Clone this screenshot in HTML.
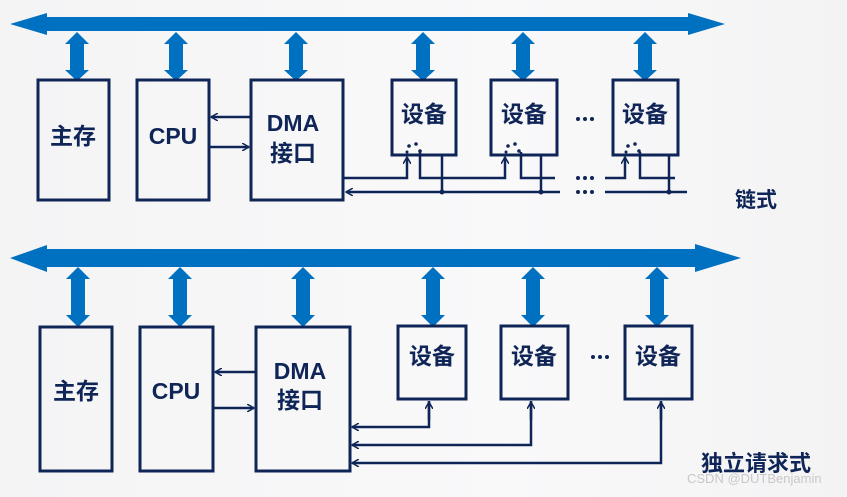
<!DOCTYPE html>
<html><head><meta charset="utf-8"><style>
html,body{margin:0;padding:0;}
body{width:847px;height:492px;overflow:hidden;background:linear-gradient(90deg,#f4f4f5,#f9f9fa 60%,#f3f3f4);}
svg text{font-family:"Liberation Sans","Noto Sans CJK SC",sans-serif;font-weight:bold;fill:#0f2557;}
</style></head><body>
<svg width="847" height="492" viewBox="0 0 847 492" xmlns="http://www.w3.org/2000/svg">
<defs>
<marker id="ah" markerWidth="8" markerHeight="8" refX="7" refY="4" orient="auto" markerUnits="userSpaceOnUse"><path d="M0,0 L7,4 L0,8" fill="none" stroke="#0f2557" stroke-width="1.5"/></marker>
</defs>
<polygon points="10,24 47,13 47,17 688,17 688,13 725,24 688,35 688,31 47,31 47,35" fill="#0070c0"/>
<polygon points="10,258 47,245 47,249 695,249 695,244 741,258 695,272 695,267 47,267 47,272" fill="#0070c0"/>
<g fill="#0070c0">
<path id="d1" d="M0,32 L12,44 L7,44 L7,70 L12,70 L0,81 L-12,70 L-7,70 L-7,44 L-12,44 Z" transform="translate(77,0)"/>
<use href="#d1" x="99"/><use href="#d1" x="219"/><use href="#d1" x="346"/><use href="#d1" x="446"/><use href="#d1" x="568"/>
<path id="d2" d="M0,267 L12,279 L7,279 L7,315 L12,315 L0,327 L-12,315 L-7,315 L-7,279 L-12,279 Z" transform="translate(78,0)"/>
<use href="#d2" x="102"/><use href="#d2" x="225"/><use href="#d2" x="355"/><use href="#d2" x="455"/><use href="#d2" x="579"/>
</g>
<g fill="none" stroke="#0f2557" stroke-width="3">
<rect x="38" y="80" width="71" height="120"/>
<rect x="137" y="80" width="72" height="120"/>
<rect x="251" y="80" width="92" height="120"/>
<rect x="392" y="80" width="64" height="75"/>
<rect x="491" y="80" width="66" height="75"/>
<rect x="613" y="80" width="65" height="75"/>
<rect x="40" y="327" width="72" height="144"/>
<rect x="140" y="327" width="73" height="144"/>
<rect x="256" y="327" width="94" height="144"/>
<rect x="398" y="326" width="68" height="73"/>
<rect x="501" y="326" width="67" height="73"/>
<rect x="625" y="326" width="67" height="73"/>
</g>
<g fill="none" stroke="#0f2557" stroke-width="2.5">
<line x1="250" y1="117" x2="211" y2="117" marker-end="url(#ah)"/>
<line x1="209" y1="147" x2="249" y2="147" marker-end="url(#ah)"/>
<line x1="255" y1="372" x2="215" y2="372" marker-end="url(#ah)"/>
<line x1="213" y1="408" x2="254" y2="408" marker-end="url(#ah)"/>
<polyline points="344,178 407,178 407,157" marker-end="url(#ah)"/>
<polyline points="420,152 420,178 505,178 505,157" marker-end="url(#ah)"/>
<polyline points="521,152 521,178 555,178"/>
<polyline points="605,178 625,178 625,157" marker-end="url(#ah)"/>
<polyline points="640,152 640,178 675,178"/>
<line x1="560" y1="192" x2="346" y2="192" marker-end="url(#ah)"/>
<line x1="605" y1="192" x2="687" y2="192"/>
<line x1="442" y1="155" x2="442" y2="192"/>
<line x1="541" y1="155" x2="541" y2="192"/>
<line x1="669" y1="155" x2="669" y2="192"/>
<polyline points="429,401 429,427 352,427" marker-end="url(#ah)"/>
<polyline points="531,401 531,445 352,445" marker-end="url(#ah)"/>
<polyline points="661,401 661,463 352,463" marker-end="url(#ah)"/>
<line x1="429" y1="420" x2="429" y2="402" marker-end="url(#ah)"/>
<line x1="531" y1="420" x2="531" y2="402" marker-end="url(#ah)"/>
<line x1="661" y1="420" x2="661" y2="402" marker-end="url(#ah)"/>
</g>
<g fill="#0f2557">
<circle cx="442" cy="192" r="2.5"/><circle cx="541" cy="192" r="2.5"/><circle cx="669" cy="192" r="2.5"/>
<circle cx="409" cy="146" r="1.8"/><circle cx="416" cy="144" r="1.8"/><circle cx="420" cy="151" r="1.8"/><circle cx="407" cy="152" r="1.5"/>
<circle cx="508" cy="146" r="1.8"/><circle cx="515" cy="144" r="1.8"/><circle cx="519" cy="151" r="1.8"/><circle cx="506" cy="152" r="1.5"/>
<circle cx="628" cy="146" r="1.8"/><circle cx="635" cy="144" r="1.8"/><circle cx="639" cy="151" r="1.8"/><circle cx="626" cy="152" r="1.5"/>
<circle cx="578" cy="178" r="2"/><circle cx="585" cy="178" r="2"/><circle cx="592" cy="178" r="2"/>
<circle cx="578" cy="192" r="2"/><circle cx="585" cy="192" r="2"/><circle cx="592" cy="192" r="2"/>
<circle cx="578" cy="119" r="2"/><circle cx="585" cy="119" r="2"/><circle cx="592" cy="119" r="2"/>
<circle cx="593" cy="357" r="2"/><circle cx="600" cy="357" r="2"/><circle cx="607" cy="357" r="2"/>
</g>
<g font-size="23">
<text x="73" y="144" text-anchor="middle">主存</text>
<text x="173" y="144" text-anchor="middle">CPU</text>
<text x="293" y="131" text-anchor="middle">DMA</text>
<text x="293" y="161" text-anchor="middle">接口</text>
<text x="424" y="122" text-anchor="middle">设备</text>
<text x="524" y="122" text-anchor="middle">设备</text>
<text x="645" y="122" text-anchor="middle">设备</text>
<text x="76" y="399" text-anchor="middle">主存</text>
<text x="176" y="399" text-anchor="middle">CPU</text>
<text x="300" y="379" text-anchor="middle">DMA</text>
<text x="300" y="408" text-anchor="middle">接口</text>
<text x="432" y="364" text-anchor="middle">设备</text>
<text x="534" y="364" text-anchor="middle">设备</text>
<text x="658" y="364" text-anchor="middle">设备</text>
</g>
<text x="735" y="207" font-size="21">链式</text>
<text x="701" y="471" font-size="22">独立请求式</text>
<text x="687" y="483" font-size="13" style="font-weight:normal;fill:#c8c8c8">CSDN @DUTBenjamin</text>
</svg>
</body></html>
